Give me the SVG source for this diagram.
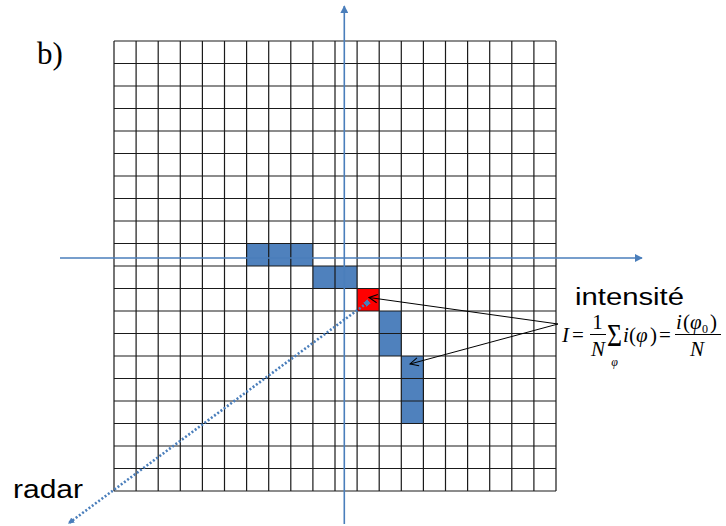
<svg xmlns="http://www.w3.org/2000/svg" width="726" height="526" viewBox="0 0 726 526">
<style>
.grid{fill:none;stroke:#1a1a1a;stroke-width:1.2}
.blue{fill:#4F81BD}
.red{fill:#FF0000}
.axis{fill:none;stroke:#4A7EBB;stroke-width:1.6}
.radar{fill:none;stroke:#4A7EBB;stroke-width:2.6;stroke-dasharray:2 2}
.ptr{fill:none;stroke:#000;stroke-width:1}
.lbl{font-family:"Liberation Sans",Arial,sans-serif;fill:#000}
.mth{font-family:"Liberation Serif","Times New Roman",serif;fill:#000}
</style>
<defs>
<marker id="ax" viewBox="0 0 10 10" refX="9" refY="5" markerWidth="5" markerHeight="5" orient="auto" markerUnits="strokeWidth">
<path d="M0,0 L10,5 L0,10 Z" fill="#4A7EBB"/>
</marker>
<marker id="rd" viewBox="0 0 10 10" refX="8" refY="5" markerWidth="2.4" markerHeight="2.4" orient="auto" markerUnits="strokeWidth">
<path d="M0,0 L10,5 L0,10 Z" fill="#4A7EBB"/>
</marker>
<marker id="sq" viewBox="0 0 10 10" refX="5" refY="5" markerWidth="2" markerHeight="2" orient="auto" markerUnits="strokeWidth">
<rect x="0" y="0" width="10" height="10" fill="#4A7EBB"/>
</marker>
<marker id="op" viewBox="0 0 12 12" refX="11" refY="6" markerWidth="10" markerHeight="10" orient="auto" markerUnits="userSpaceOnUse">
<path d="M1,1 L11,6 L1,11" fill="none" stroke="#000" stroke-width="1.2"/>
</marker>
</defs>
<rect width="726" height="526" fill="#fff"/>
<g id="cells">
<rect class="blue" x="246.6" y="243.5" width="66.3" height="22.5"/>
<rect class="blue" x="312.9" y="266" width="44.2" height="22.5"/>
<rect class="red" x="357.1" y="288.5" width="22.1" height="22.5"/>
<rect class="blue" x="379.2" y="311" width="22.1" height="45"/>
<rect class="blue" x="401.3" y="356" width="22.1" height="67.5"/>
</g>
<g id="grid">
<path class="grid" d="M114 41V491M136.1 41V491M158.2 41V491M180.3 41V491M202.4 41V491M224.5 41V491M246.6 41V491M268.7 41V491M290.8 41V491M312.9 41V491M335 41V491M357.1 41V491M379.2 41V491M401.3 41V491M423.4 41V491M445.5 41V491M467.6 41V491M489.7 41V491M511.8 41V491M533.9 41V491M556 41V491"/>
<path class="grid" d="M114 41H556M114 63.5H556M114 86H556M114 108.5H556M114 131H556M114 153.5H556M114 176H556M114 198.5H556M114 221H556M114 243.5H556M114 266H556M114 288.5H556M114 311H556M114 333.5H556M114 356H556M114 378.5H556M114 401H556M114 423.5H556M114 446H556M114 468.5H556M114 491H556"/>
</g>
<g id="connectors">
<line class="axis" x1="60" y1="258" x2="642" y2="258" marker-end="url(#ax)"/>
<line class="axis" x1="344.3" y1="524" x2="344.3" y2="6" marker-end="url(#ax)"/>
<line class="radar" x1="367" y1="303" x2="69" y2="523" marker-start="url(#sq)" marker-end="url(#rd)"/>
<line class="ptr" x1="558" y1="324" x2="369" y2="297.5" marker-end="url(#op)"/>
<line class="ptr" x1="558" y1="324" x2="410" y2="364" marker-end="url(#op)"/>
</g>
<g id="label-b"><text class="mth" x="37" y="64" font-size="31">b)</text></g>
<g id="label-radar"><text class="lbl" x="13" y="498" font-size="26" textLength="70" lengthAdjust="spacingAndGlyphs">radar</text></g>
<g id="label-intensite"><text class="lbl" x="575" y="305" font-size="23" textLength="109" lengthAdjust="spacingAndGlyphs">intensité</text></g>
<g id="formula" class="mth" font-style="italic" font-size="21">
<text x="562" y="342">I</text>
<text x="572" y="342" font-style="normal">=</text>
<text x="597.5" y="329" font-style="normal" text-anchor="middle">1</text>
<line x1="590" y1="334.5" x2="606" y2="334.5" stroke="#000" stroke-width="1"/>
<text x="598" y="356" text-anchor="middle">N</text>
<text x="607" y="346" font-style="normal" font-size="24" transform="translate(0,346) scale(1,1.3) translate(0,-346)" textLength="15" lengthAdjust="spacingAndGlyphs">Σ</text>
<text x="614.5" y="366" font-size="12" text-anchor="middle">φ</text>
<text x="623" y="342">i</text>
<text x="629" y="342" font-style="normal">(</text>
<text x="636" y="342">φ</text>
<text x="650" y="342" font-style="normal">)</text>
<text x="659" y="342" font-style="normal">=</text>
<text x="676" y="329">i</text>
<text x="683" y="329" font-style="normal">(</text>
<text x="690" y="329">φ</text>
<text x="702" y="333" font-style="normal" font-size="12">0</text>
<text x="710" y="329" font-style="normal">)</text>
<line x1="675" y1="334.5" x2="721" y2="334.5" stroke="#000" stroke-width="1"/>
<text x="697" y="356" text-anchor="middle">N</text>
</g>
</svg>
